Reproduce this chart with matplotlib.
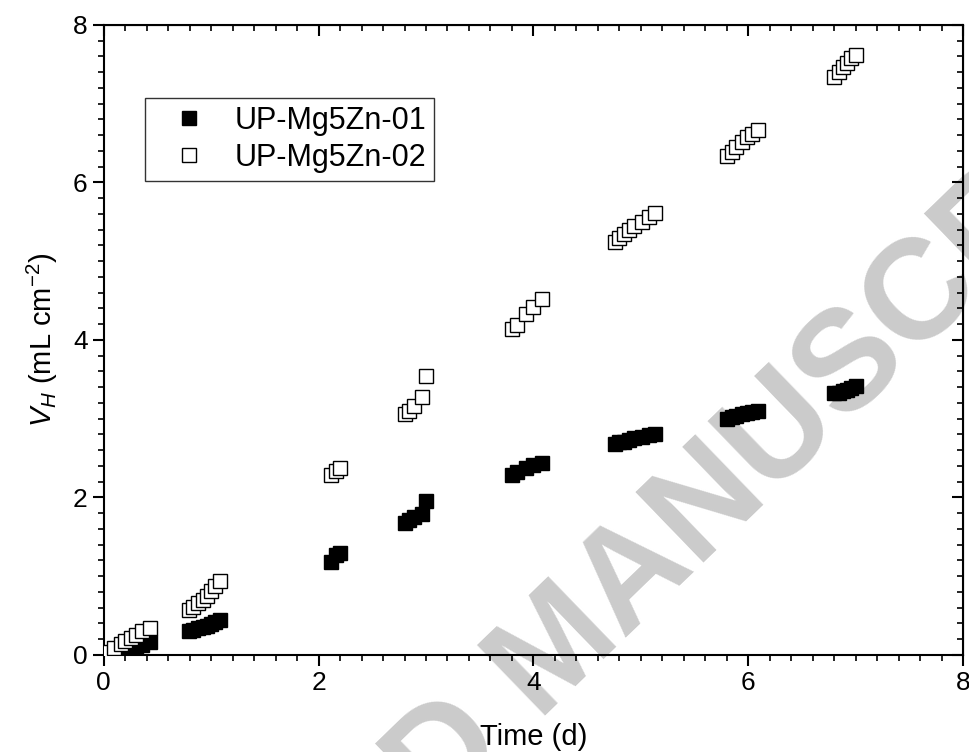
import numpy as np
import matplotlib
matplotlib.use('Agg')
import matplotlib.pyplot as plt

plt.rcParams['font.family'] = ['Liberation Sans', 'DejaVu Sans']
plt.rcParams['mathtext.fontset'] = 'custom'
plt.rcParams['mathtext.rm'] = 'Liberation Sans'
plt.rcParams['mathtext.it'] = 'Liberation Sans:italic'

# time (d), shared by both samples
t = [0.0, 0.04, 0.10, 0.16, 0.20, 0.25, 0.30, 0.36, 0.43,
     0.79, 0.83, 0.88, 0.92, 0.96, 1.00, 1.04, 1.08,
     2.12, 2.16, 2.20,
     2.80, 2.84, 2.89, 2.96, 3.00,
     3.80, 3.85, 3.93, 4.00, 4.08,
     4.76, 4.80, 4.84, 4.89, 4.94, 5.01, 5.08, 5.13,
     5.80, 5.85, 5.89, 5.94, 5.99, 6.03, 6.09,
     6.80, 6.84, 6.88, 6.92, 6.96, 7.00]

# UP-Mg5Zn-01 (filled)
v01 = [0.0, 0.0, 0.02, 0.04, 0.06, 0.08, 0.10, 0.13, 0.16,
       0.31, 0.32, 0.34, 0.35, 0.37, 0.39, 0.42, 0.45,
       1.18, 1.27, 1.30,
       1.68, 1.72, 1.75, 1.79, 1.96,
       2.28, 2.32, 2.37, 2.41, 2.44,
       2.68, 2.70, 2.71, 2.73, 2.75, 2.77, 2.79, 2.80,
       3.00, 3.02, 3.04, 3.06, 3.07, 3.09, 3.10,
       3.32, 3.33, 3.35, 3.37, 3.39, 3.41]

# UP-Mg5Zn-02 (open)
v02 = [0.0, 0.04, 0.09, 0.14, 0.18, 0.22, 0.26, 0.30, 0.34,
       0.57, 0.61, 0.66, 0.70, 0.75, 0.81, 0.87, 0.94,
       2.28, 2.33, 2.38,
       3.06, 3.10, 3.16, 3.27, 3.54,
       4.14, 4.19, 4.33, 4.42, 4.52,
       5.24, 5.29, 5.34, 5.40, 5.45, 5.50, 5.56, 5.61,
       6.33, 6.39, 6.45, 6.51, 6.57, 6.62, 6.67,
       7.34, 7.40, 7.46, 7.52, 7.58, 7.62]

labels = ['UP-Mg5Zn-01', 'UP-Mg5Zn-02']

fig = plt.figure(figsize=(9.69, 7.52), dpi=100)
ax = fig.add_axes([0.107, 0.129, 0.887, 0.838])

# watermark (behind everything)
fig.text(-50, 752 - 1290, 'ACCEPTED MANUSCRIPT', transform=None,
         rotation=44, rotation_mode='anchor', ha='left', va='baseline',
         fontsize=102, fontweight='bold', color='#cbcbcb', zorder=-1)
ax.patch.set_alpha(0)

ax.plot(t, v01, 's', ms=9.5, mfc='black', mec='black', mew=1.0,
        label=labels[0], zorder=3)
ax.plot(t, v02, 's', ms=9.5, mfc='white', mec='black', mew=1.0,
        label=labels[1], zorder=4)

ax.set_xlim(0, 8)
ax.set_ylim(0, 8)
ax.set_xticks([0, 2, 4, 6, 8])
ax.set_yticks([0, 2, 4, 6, 8])
ax.set_xticks(np.arange(0, 8.01, 0.2), minor=True)
ax.set_yticks(np.arange(0, 8.01, 0.2), minor=True)
ax.tick_params(which='major', direction='out', length=8, width=1.5, labelsize=19)
ax.tick_params(which='minor', direction='out', length=4, width=1.2)
for s in ax.spines.values():
    s.set_linewidth(1.5)

# inward ticks on top and right
top = ax.secondary_xaxis('top')
top.set_xticks([0, 2, 4, 6, 8])
top.set_xticks(np.arange(0, 8.01, 0.2), minor=True)
top.tick_params(which='major', direction='in', length=8, width=1.5, labeltop=False)
top.tick_params(which='minor', direction='in', length=4, width=1.2)
right = ax.secondary_yaxis('right')
right.set_yticks([0, 2, 4, 6, 8])
right.set_yticks(np.arange(0, 8.01, 0.2), minor=True)
right.tick_params(which='major', direction='in', length=8, width=1.5, labelright=False)
right.tick_params(which='minor', direction='in', length=4, width=1.2)

ax.set_xlabel('Time (d)', fontsize=21, labelpad=20)
ax.set_ylabel(r'$V_H$ (mL cm$^{-2}$)', fontsize=21, labelpad=9)

leg = ax.legend(loc='upper left', bbox_to_anchor=(0.048, 0.884), fontsize=22,
                frameon=True, fancybox=False, handlelength=2.4, handletextpad=0.3,
                borderpad=0.25, labelspacing=0.25, borderaxespad=0,
                markerscale=1.05)
leg.get_frame().set_edgecolor('black')
leg.get_frame().set_linewidth(1.0)

fig.savefig('out.png', dpi=100)
